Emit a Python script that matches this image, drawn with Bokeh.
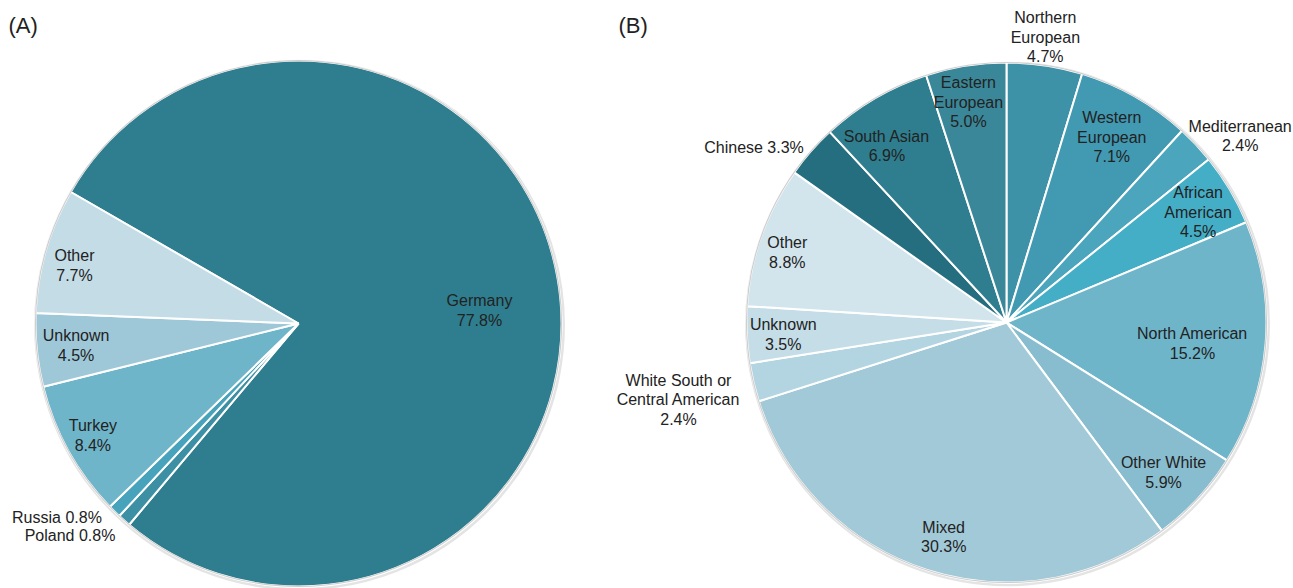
import math
from bokeh.plotting import figure
from bokeh.models import Range1d, ColumnDataSource
from bokeh.core.properties import value
from bokeh.embed import file_html
from bokeh.resources import INLINE

# ---------------- data ----------------
a_names = ["Germany", "Poland", "Russia", "Turkey", "Unknown", "Other"]
a_values = [77.8, 0.8, 0.8, 8.4, 4.5, 7.7]
a_colors = ["#2e7e8f", "#3d8fa3", "#46a3bb", "#6fb5ca", "#9ec8d8", "#c3dce6"]

b_names = ["Northern\nEuropean", "Western\nEuropean", "Mediterranean", "African\nAmerican",
           "North American", "Other White", "Mixed", "White South or\nCentral American",
           "Unknown", "Other", "Chinese", "South Asian", "Eastern\nEuropean"]
b_values = [4.7, 7.1, 2.4, 4.5, 15.2, 5.9, 30.3, 2.4, 3.5, 8.8, 3.3, 6.9, 5.0]
b_colors = ["#3e92a8", "#4199b2", "#4aa5bd", "#45aec7", "#6fb5ca", "#88bdcf", "#a2c9d8",
            "#b3d4e1", "#c4dde7", "#d2e5ec", "#246e7f", "#2e7e8f", "#3a8799"]

# ---------------- layout ----------------
W, H = 1293, 588
FONT = "Liberation Sans"

# label layout: (radius fraction, angle delta deg, align, single line?)
a_lab = [(0.69, -5.9, "center", False), (1.065, 0.7, "right", True), (1.05, -1.0, "right", True),
         (0.89, -0.5, "center", False), (0.85, -0.2, "center", False), (0.88, 1.6, "center", False)]
b_lab = [(1.107, 0.7, "center", False), (0.82, 0.1, "center", False), (1.15, -4.6, "center", False),
         (0.85, -0.9, "center", False), (0.72, -1.7, "center", False), (0.835, -1.0, "center", False),
         (0.86, 1.5, "center", False), (1.296, -0.1, "center", False), (0.86, 0.4, "center", False),
         (0.885, 1.7, "center", False), (1.03, 0.4, "right", True), (0.82, 3.7, "center", False),
         (0.86, 0.8, "center", False)]

p = figure(width=W, height=H, output_backend="svg", toolbar_location=None,
           x_range=Range1d(0, W), y_range=Range1d(0, H), min_border=0)
p.axis.visible = False
p.grid.visible = False
p.outline_line_color = None
p.background_fill_color = "white"


def draw_pie(cx_px, cy_px, R, start_deg, names, values, colors, labs):
    cx, cy = cx_px, H - cy_px
    total = sum(values)
    starts, ends, lx, ly, txt, aligns = [], [], [], [], [], []
    cum = 0.0
    for n, v, (rf, da, al, single) in zip(names, values, labs):
        a0 = start_deg - (cum + v) / total * 360.0
        a1 = start_deg - cum / total * 360.0
        cum += v
        starts.append(math.radians(a0))
        ends.append(math.radians(a1))
        mid = math.radians((a0 + a1) / 2 + da)
        lx.append(cx + rf * R * math.cos(mid))
        ly.append(cy + rf * R * math.sin(mid))
        sep = " " if single else "\n"
        txt.append(f"{n}{sep}{v:.1f}%")
        aligns.append(al)
    src = ColumnDataSource(dict(start=starts, end=ends, color=colors))
    p.circle(x=[cx + 1], y=[cy - 1.5], radius=R + 1.2, fill_color=None,
             line_color="#e4e4e4", line_width=2.5)
    p.wedge(x=cx, y=cy, radius=R, start_angle="start", end_angle="end",
            fill_color="color", line_color="white", line_width=2, source=src)
    p.circle(x=[cx], y=[cy], radius=R, fill_color=None, line_color="#cfcfcf", line_width=1.2)
    lsrc = ColumnDataSource(dict(x=lx, y=ly, t=txt, al=aligns))
    p.text(x="x", y="y", text="t", text_align="al", text_baseline="middle",
           text_font=value(FONT), text_font_size="16px", text_color="#222222",
           text_line_height=1.15, source=lsrc)


draw_pie(298, 323, 263, 150.0, a_names, a_values, a_colors, a_lab)
draw_pie(1006, 322, 260, 90.0, b_names, b_values, b_colors, b_lab)

p.text(x=[8, 618], y=[H - 25, H - 25], text=["(A)", "(B)"], text_baseline="middle",
       text_font=value(FONT), text_font_size="22px", text_color="#222222")

open("out.html", "w").write(file_html(p, INLINE))
